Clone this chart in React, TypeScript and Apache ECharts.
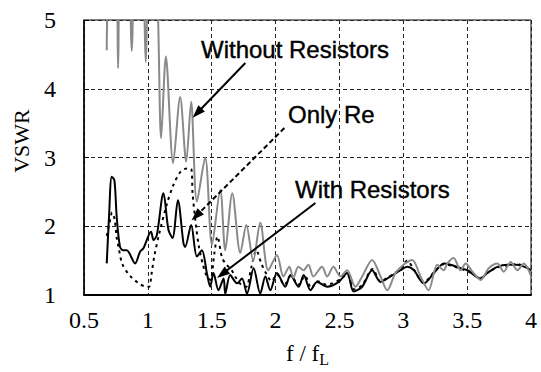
import React, { useEffect, useRef } from "react";
import * as echarts from "echarts";

// Without Resistors (gray)
const woX = [0.678,0.70,0.75,0.767,0.785,0.845,0.874,0.90,0.955,0.984,1.01,1.062,1.104,1.141,1.198,1.253,1.300,1.339,1.384,1.449,1.502,1.567,1.606,1.661,1.724,1.771,1.825,1.880,1.943,2.011,2.061,2.108,2.139,2.178,2.218,2.257,2.296,2.364,2.404,2.453,2.508,2.560,2.625,2.678,2.756,2.822,2.874,2.939,3.002,3.070,3.135,3.198,3.266,3.316,3.345,3.394,3.449,3.488,3.541,3.606,3.669,3.737,3.786,3.841,3.894,3.943,3.998];
const woY = [4.56,5.5,5.5,4.30,5.5,5.5,4.55,5.5,5.5,4.39,5.5,5.5,3.28,4.47,2.92,3.88,2.94,3.81,2.36,3.0,1.73,2.53,1.65,2.48,1.61,2.02,1.5,2.05,1.36,1.58,1.27,1.41,1.25,1.41,1.36,1.44,1.27,1.41,1.27,1.41,1.27,1.36,1.12,1.27,1.51,1.27,1.07,1.32,1.44,1.51,1.27,1.07,1.44,1.36,1.46,1.54,1.36,1.46,1.34,1.22,1.39,1.46,1.34,1.48,1.36,1.46,1.29];

// With Resistors (black)
const wX = [0.678,0.696,0.717,0.738,0.756,0.782,0.808,0.835,0.900,0.939,0.965,1.025,1.044,1.070,1.122,1.161,1.193,1.235,1.279,1.292,1.339,1.384,1.423,1.462,1.488,1.514,1.553,1.593,1.606,1.645,1.698,1.737,1.776,1.828,1.880,1.920,1.959,2.011,2.076,2.116,2.181,2.220,2.273,2.325,2.404,2.495,2.560,2.612,2.678,2.756,2.822,2.900,2.978,3.031,3.083,3.161,3.240,3.318,3.371,3.449,3.502,3.606,3.658,3.737,3.815,3.893,3.972,4.0];
const wY = [1.46,2.14,2.72,2.67,2.14,1.70,1.65,1.65,1.46,1.63,1.68,1.92,1.80,1.87,2.48,1.95,1.83,2.38,1.75,1.70,2.02,1.56,1.65,1.32,1.12,1.32,1.07,1.24,1.02,1.29,1.17,1.24,1.02,1.39,1.02,1.27,1.07,1.32,1.12,1.29,1.12,1.29,1.07,1.19,1.12,1.19,1.32,1.05,1.12,1.36,1.19,1.27,1.36,1.41,1.36,1.17,1.32,1.46,1.44,1.39,1.36,1.24,1.32,1.41,1.44,1.44,1.39,1.36];

// Only Re (dotted)
const reX = [0.678,0.70,0.72,0.74,0.755,0.77,0.80,0.86,0.93,0.99,1.01,1.03,1.05,1.09,1.15,1.20,1.255,1.305,1.34,1.35,1.378,1.40,1.43,1.46,1.49,1.52,1.545,1.58,1.61,1.65,1.69,1.73,1.77,1.81,1.85,1.89,1.93,1.97,2.01,2.07,2.12,2.18,2.23,2.28,2.33,2.40,2.50,2.56,2.62,2.68,2.76,2.82,2.90,2.98,3.03,3.08,3.16,3.24,3.32,3.37,3.45,3.50,3.61,3.66,3.74,3.82,3.89,3.97,4.0];
const reY = [1.86,2.05,2.2,2.1,1.85,1.70,1.45,1.28,1.17,1.12,1.12,1.32,1.56,1.90,2.33,2.6,2.79,2.84,2.83,2.48,1.99,1.70,1.45,1.28,1.22,1.60,1.85,1.55,1.45,1.38,1.25,1.15,1.12,1.40,1.65,1.45,1.30,1.20,1.30,1.15,1.28,1.15,1.28,1.10,1.20,1.15,1.22,1.30,1.08,1.15,1.38,1.20,1.28,1.38,1.50,1.38,1.18,1.33,1.45,1.43,1.38,1.35,1.25,1.33,1.40,1.43,1.45,1.40,1.37];

// Annotation arrows (data coordinates): [fromX, fromY, toX, toY]
const arrowWithout = [1.763, 4.375, 1.386, 3.647];
const arrowOnlyRe = [2.069, 3.429, 1.378, 2.149];
const arrowWith = [2.312, 2.338, 1.582, 1.305];

const labels = ["Without Resistors", "Only Re", "With Resistors"];

const zip = (xs: number[], ys: number[]) => xs.map((x, i) => [x, ys[i]]);

const serif = "'Liberation Serif', 'Times New Roman', serif";
const sans = "'Liberation Sans', Arial, sans-serif";

export default function App() {
  const ref = useRef<HTMLDivElement>(null);
  useEffect(() => {
    if (!ref.current) return;
    const chart = echarts.init(ref.current, undefined, { renderer: "svg" });
    const arrow = (a: number[], dashed: boolean) => [
      { coord: [a[0], a[1]], symbol: "none" },
      {
        coord: [a[2], a[3]],
        symbol: "triangle",
        symbolSize: [9, 13],
        lineStyle: { color: "#000", width: 2, type: dashed ? [5, 3] : "solid" },
        itemStyle: { color: "#000" },
      },
    ];
    chart.setOption({
      animation: false,
      backgroundColor: "#fff",
      grid: { left: 84, right: 10, top: 20, bottom: 77, show: true, borderColor: "#000", borderWidth: 1 },
      xAxis: {
        type: "value",
        min: 0.5,
        max: 4,
        interval: 0.5,
        axisLine: { lineStyle: { color: "#000", width: 2 } },
        axisTick: { show: false },
        axisLabel: { color: "#000", fontFamily: serif, fontSize: 24, margin: 13 },
        splitLine: { show: true, lineStyle: { color: "#222", width: 1, type: [4, 3] } },
        name: "f / f{sub|L}",
        nameLocation: "middle",
        nameGap: 44,
        nameTextStyle: {
          color: "#000",
          fontFamily: serif,
          fontSize: 23,
          rich: { sub: { fontFamily: serif, fontSize: 16, padding: [12, 0, 0, 0], color: "#000" } },
        },
      },
      yAxis: {
        type: "value",
        min: 1,
        max: 5,
        interval: 1,
        axisLine: { show: true, lineStyle: { color: "#000", width: 1.5 } },
        axisTick: { show: true, inside: true, length: 5, lineStyle: { color: "#000" } },
        axisLabel: { color: "#000", fontFamily: serif, fontSize: 24, margin: 28 },
        splitLine: { show: true, lineStyle: { color: "#222", width: 1, type: [4, 3] } },
      },
      graphic: [
        { type: "text", x: 21, y: 141, rotation: Math.PI / 2, style: { text: "VSWR", font: `22px ${serif}`, fill: "#000", align: "center", verticalAlign: "middle" } },
        { type: "text", x: 201, y: 49, style: { text: labels[0], font: `24px ${sans}`, fill: "#000", stroke: "#000", lineWidth: 0.4, align: "left", verticalAlign: "middle" } },
        { type: "text", x: 288, y: 114, style: { text: labels[1], font: `24px ${sans}`, fill: "#000", stroke: "#000", lineWidth: 0.4, align: "left", verticalAlign: "middle" } },
        { type: "text", x: 295, y: 189, style: { text: labels[2], font: `24px ${sans}`, fill: "#000", stroke: "#000", lineWidth: 0.4, align: "left", verticalAlign: "middle" } },
      ],
      series: [
        {
          name: labels[1],
          type: "line",
          data: zip(reX, reY),
          showSymbol: false,
          symbol: "none",
          smooth: 0.3,
          lineStyle: { color: "#000", width: 2, type: [3, 4] },
        },
        {
          name: labels[2],
          type: "line",
          data: zip(wX, wY),
          showSymbol: false,
          symbol: "none",
          smooth: 0.3,
          lineStyle: { color: "#000", width: 2 },
        },
        {
          name: labels[0],
          type: "line",
          data: zip(woX, woY),
          showSymbol: false,
          symbol: "none",
          smooth: 0.3,
          lineStyle: { color: "#8a8a8a", width: 2 },
          markLine: {
            silent: true,
            animation: false,
            label: { show: false },
            symbol: ["none", "triangle"],
            data: [arrow(arrowWithout, false), arrow(arrowOnlyRe, true), arrow(arrowWith, false)],
          },
        },
      ],
    });
    return () => chart.dispose();
  }, []);
  return <div ref={ref} style={{ position: "absolute", left: 0, top: 0, width: 541, height: 372, background: "#fff" }} />;
}
